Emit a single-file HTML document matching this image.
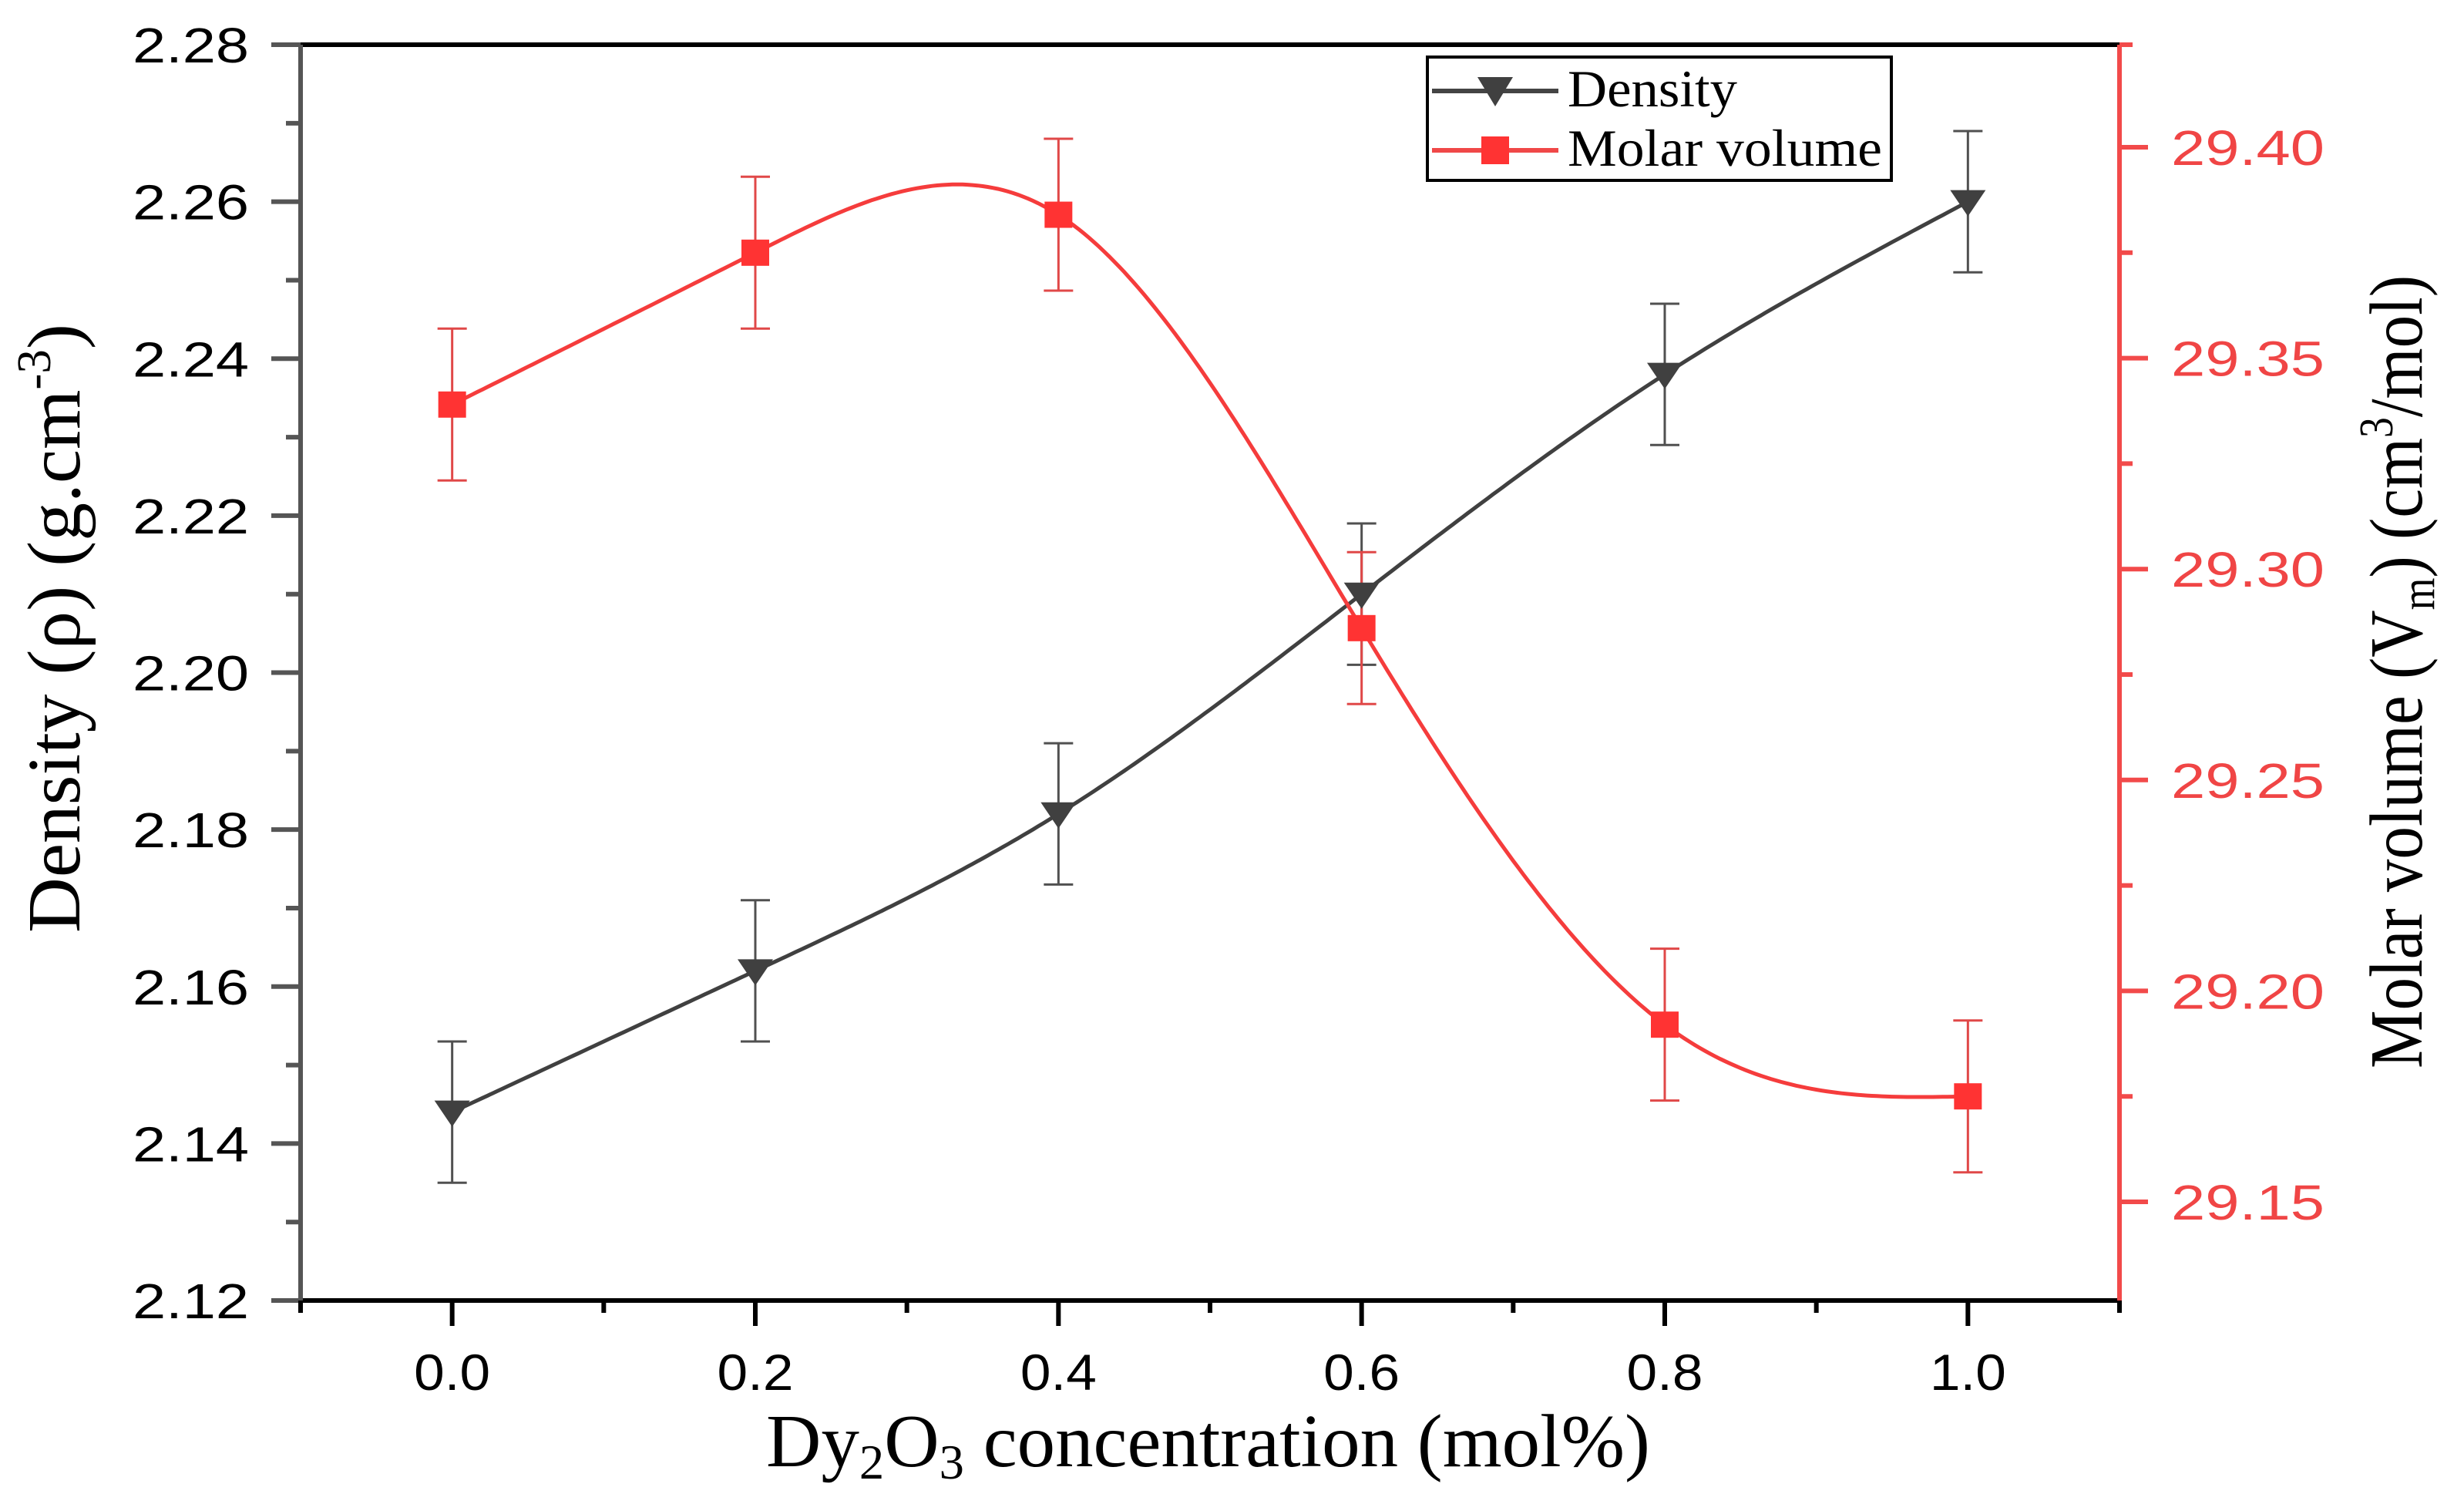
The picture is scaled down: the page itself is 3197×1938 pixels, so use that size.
<!DOCTYPE html>
<html><head><meta charset="utf-8"><style>
html,body{margin:0;padding:0;background:#fff}
svg{display:block}
text{font-family:"Liberation Sans",sans-serif}
.serif{font-family:"Liberation Serif",serif}
</style></head><body>
<svg id="chart" width="3197" height="1938" viewBox="0 0 3197 1938" xmlns="http://www.w3.org/2000/svg">
<rect width="3197" height="1938" fill="#fff"/>
<g id="plot"></g>
<g id="axes"></g>
<text class="serif" x="994" y="1902" font-size="98" textLength="1147" lengthAdjust="spacingAndGlyphs">Dy<tspan font-size="64" dy="16">2</tspan><tspan dy="-16">O</tspan><tspan font-size="64" dy="16">3</tspan><tspan dy="-16"> concentration (mol%)</tspan></text>
<text class="serif" transform="translate(103,1210) rotate(-90)" x="0" y="0" font-size="98" textLength="790" lengthAdjust="spacingAndGlyphs">Density (ρ) (g.cm<tspan font-size="62" dy="-38">-3</tspan><tspan dy="38">)</tspan></text>
<text class="serif" transform="translate(3142,1386) rotate(-90)" x="0" y="0" font-size="98" textLength="1029" lengthAdjust="spacingAndGlyphs">Molar volume (V<tspan font-size="62" dy="16">m</tspan><tspan dy="-16">) (cm</tspan><tspan font-size="62" dy="-38">3</tspan><tspan dy="38">/mol)</tspan></text>
<g id="legend">
<rect x="1852" y="74" width="602" height="160" fill="#fff" stroke="#000" stroke-width="4"/>
<g>
<line x1="1858" y1="118" x2="2022" y2="118" stroke="#444" stroke-width="6"/>
<polygon points="1917,100 1963,100 1940,138" fill="#404040"/>
<text class="serif" x="2034" y="138" font-size="68" textLength="220" lengthAdjust="spacingAndGlyphs">Density</text>
</g>
<g>
<line x1="1858" y1="195" x2="2022" y2="195" stroke="#f04848" stroke-width="6"/>
<rect x="1922" y="177" width="36" height="36" fill="#ff3333"/>
<text class="serif" x="2034" y="215" font-size="68" textLength="408" lengthAdjust="spacingAndGlyphs">Molar volume</text>
</g>
</g>
</svg>
<script>
const xValues = [0.0, 0.2, 0.4, 0.6, 0.8, 1.0];
const densityValues = [2.144, 2.162, 2.182, 2.210, 2.238, 2.260];
const densityErrors = [0.009, 0.009, 0.009, 0.009, 0.009, 0.009];
const molarValues = [29.339, 29.375, 29.384, 29.286, 29.192, 29.175];
const molarErrors = [0.018, 0.018, 0.018, 0.018, 0.018, 0.018];
const xTickLabels = ["0.0", "0.2", "0.4", "0.6", "0.8", "1.0"];
const leftTickLabels = ["2.12", "2.14", "2.16", "2.18", "2.20", "2.22", "2.24", "2.26", "2.28"];
const rightTickLabels = ["29.15", "29.20", "29.25", "29.30", "29.35", "29.40"];

const NS = "http://www.w3.org/2000/svg";
const L = 390, R = 2750, T = 58, B = 1687;
const xMin = -0.1, xMax = 1.1;
const yLMin = 2.12, yLMax = 2.28;
const xS = v => L + (v - xMin) / (xMax - xMin) * (R - L);
const yL = v => B - (v - yLMin) / (yLMax - yLMin) * (B - T);
const yR = v => 191 + (29.40 - v) / 0.05 * 273.6;

function mk(tag, attrs, parent) {
  const e = document.createElementNS(NS, tag);
  for (const k in attrs) e.setAttribute(k, attrs[k]);
  parent.appendChild(e);
  return e;
}
const plot = document.getElementById('plot');
const axes = document.getElementById('axes');

function spline(xs, ys) {
  const n = xs.length, h = [], a = [], l = [1], mu = [0], z = [0], c = new Array(n).fill(0), b = [], d = [];
  for (let i = 0; i < n - 1; i++) h.push(xs[i + 1] - xs[i]);
  for (let i = 1; i < n - 1; i++) a[i] = 3 / h[i] * (ys[i + 1] - ys[i]) - 3 / h[i - 1] * (ys[i] - ys[i - 1]);
  for (let i = 1; i < n - 1; i++) {
    l[i] = 2 * (xs[i + 1] - xs[i - 1]) - h[i - 1] * mu[i - 1];
    mu[i] = h[i] / l[i];
    z[i] = (a[i] - h[i - 1] * z[i - 1]) / l[i];
  }
  for (let j = n - 2; j >= 0; j--) {
    c[j] = (j < n - 1 && j > 0 ? z[j] - mu[j] * c[j + 1] : 0);
    b[j] = (ys[j + 1] - ys[j]) / h[j] - h[j] * (c[j + 1] + 2 * c[j]) / 3;
    d[j] = (c[j + 1] - c[j]) / (3 * h[j]);
  }
  return t => {
    let i = Math.min(n - 2, Math.max(0, xs.findIndex((v, k) => k < n - 1 && t <= xs[k + 1])));
    const dx = t - xs[i];
    return ys[i] + b[i] * dx + c[i] * dx * dx + d[i] * dx * dx * dx;
  };
}
function curve(ys, ymap, color, name) {
  const f = spline(xValues, ys);
  let dstr = "";
  const x0 = xValues[0], x1 = xValues[xValues.length - 1];
  for (let k = 0; k <= 300; k++) {
    const t = x0 + (x1 - x0) * k / 300;
    dstr += (k ? "L" : "M") + xS(t).toFixed(1) + "," + ymap(f(t)).toFixed(1);
  }
  const p = mk('path', {d: dstr, fill: 'none', stroke: color, 'stroke-width': 5}, plot);
  
  
}
function errBars(ys, es, ymap, color, name) {
  ys.forEach((v, i) => {
    const g = mk('g', {}, plot);
    
    
    const x = xS(xValues[i]), y1 = ymap(v + es[i]), y2 = ymap(v - es[i]);
    mk('line', {x1: x, y1: y1, x2: x, y2: y2, stroke: color, 'stroke-width': 3}, g);
    mk('line', {x1: x - 19, y1: y1, x2: x + 19, y2: y1, stroke: color, 'stroke-width': 3}, g);
    mk('line', {x1: x - 19, y1: y2, x2: x + 19, y2: y2, stroke: color, 'stroke-width': 3}, g);
  });
}
curve(densityValues, yL, '#404040', 'density-line');
curve(molarValues, yR, '#f53c3c', 'molar-volume-line');
errBars(densityValues, densityErrors, yL, '#505050', 'density-error-bar');
errBars(molarValues, molarErrors, yR, '#e04848', 'molar-volume-error-bar');
densityValues.forEach((v, i) => {
  const x = xS(xValues[i]), y = yL(v);
  const m = mk('polygon', {points: `${x-23},${y-15} ${x+23},${y-15} ${x},${y+19}`, fill: '#404040'}, plot);
  
  
});
molarValues.forEach((v, i) => {
  const x = xS(xValues[i]), y = yR(v);
  const m = mk('rect', {x: x - 18, y: y - 17, width: 36, height: 34, fill: '#ff3333'}, plot);
  
  
});

// axes lines
mk('line', {x1: L - 2, y1: T, x2: R, y2: T, stroke: '#000', 'stroke-width': 6}, axes);
mk('line', {x1: L - 2, y1: B, x2: R, y2: B, stroke: '#000', 'stroke-width': 6}, axes);
mk('line', {x1: L, y1: T, x2: L, y2: B, stroke: '#555', 'stroke-width': 6}, axes);
mk('line', {x1: R, y1: T, x2: R, y2: B, stroke: '#f24a4a', 'stroke-width': 6}, axes);

// left ticks
for (let k = 0; k <= 16; k++) {
  const v = yLMin + k * 0.01, y = yL(v), major = k % 2 === 0;
  mk('line', {x1: L - (major ? 38 : 19), y1: y, x2: L, y2: y, stroke: '#555', 'stroke-width': 6}, axes);
}
leftTickLabels.forEach(s => {
  const t = mk('text', {x: 323, y: yL(parseFloat(s)) + 23, 'font-size': 64, 'text-anchor': 'end', fill: '#000', textLength: 151, lengthAdjust: 'spacingAndGlyphs'}, axes);
  t.textContent = s;
  
  
});
// right ticks
for (let k = -1; k <= 10; k++) {
  const v = 29.15 + k * 0.025, y = yR(v), major = k % 2 === 0;
  if (y < T - 2 || y > B + 2) continue;
  mk('line', {x1: R, y1: y, x2: R + (major ? 37 : 17), y2: y, stroke: '#f24a4a', 'stroke-width': 6}, axes);
}
mk('line', {x1: R, y1: T, x2: R + 17, y2: T, stroke: '#f24a4a', 'stroke-width': 6}, axes);
rightTickLabels.forEach(s => {
  const t = mk('text', {x: 2817, y: yR(parseFloat(s)) + 23, 'font-size': 64, fill: '#f04545', textLength: 199, lengthAdjust: 'spacingAndGlyphs'}, axes);
  t.textContent = s;
  
  
});
// x ticks
for (let k = -1; k <= 11; k++) {
  const v = k * 0.1, x = xS(v), major = k >= 0 && k % 2 === 0;
  mk('line', {x1: x, y1: B, x2: x, y2: B + (major ? 33 : 16), stroke: '#000', 'stroke-width': 6}, axes);
}
xTickLabels.forEach(s => {
  const t = mk('text', {x: xS(parseFloat(s)), y: 1803, 'font-size': 66, 'text-anchor': 'middle', fill: '#000', textLength: 99, lengthAdjust: 'spacingAndGlyphs'}, axes);
  t.textContent = s;
  
  
});
</script>
</body></html>
